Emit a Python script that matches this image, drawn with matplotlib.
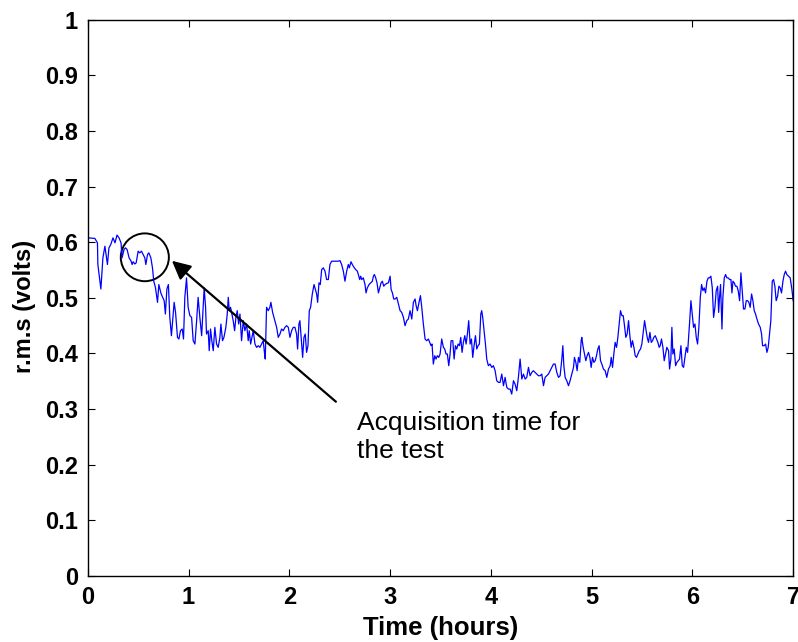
import numpy as np
import matplotlib
matplotlib.use("Agg")
import matplotlib.pyplot as plt
from matplotlib.patches import Ellipse

# r.m.s trace, in pieces (time in hours, rms in volts)
hours_1 = [0.000, 0.003, 0.070, 0.096, 0.100, 0.130, 0.150, 0.170, 0.186, 0.195,
           0.210, 0.228, 0.250, 0.270, 0.290, 0.310, 0.330, 0.340, 0.360, 0.374,
           0.390, 0.410, 0.430, 0.440, 0.450, 0.467, 0.480, 0.500, 0.516, 0.533,
           0.550, 0.566, 0.576, 0.593, 0.606, 0.626, 0.642, 0.655, 0.672, 0.692,
           0.705, 0.725, 0.738, 0.758, 0.770, 0.785, 0.800, 0.814, 0.830, 0.847,
           0.857, 0.871, 0.890, 0.904, 0.920, 0.937, 0.950, 0.963, 0.980, 0.996,
           1.013, 1.030, 1.046, 1.063, 1.080, 1.095, 1.112, 1.130]
rms_1 = [0.320, 0.608, 0.607, 0.599, 0.560, 0.516, 0.572, 0.593, 0.572, 0.560,
         0.590, 0.596, 0.608, 0.599, 0.613, 0.608, 0.599, 0.572, 0.587, 0.590,
         0.587, 0.572, 0.566, 0.560, 0.565, 0.561, 0.563, 0.584, 0.581, 0.584,
         0.578, 0.572, 0.560, 0.578, 0.581, 0.572, 0.554, 0.530, 0.518, 0.492,
         0.524, 0.509, 0.503, 0.495, 0.471, 0.516, 0.524, 0.465, 0.432, 0.471,
         0.492, 0.474, 0.429, 0.426, 0.441, 0.444, 0.426, 0.501, 0.536, 0.483,
         0.468, 0.465, 0.423, 0.417, 0.459, 0.501, 0.465, 0.432]

hours_2 = [1.155,
           1.169, 1.178, 1.195, 1.205, 1.218, 1.231, 1.245, 1.261, 1.278, 1.294,
           1.311, 1.321, 1.337, 1.351, 1.370, 1.384, 1.394, 1.404, 1.417, 1.430,
           1.443, 1.457, 1.470, 1.483, 1.497, 1.510, 1.526, 1.543, 1.559, 1.576,
           1.592, 1.602, 1.616, 1.629, 1.642, 1.659, 1.675, 1.692, 1.708, 1.725,
           1.741, 1.751, 1.761, 1.774, 1.791, 1.807, 1.817, 1.834, 1.847, 1.860,
           1.874, 1.890, 1.907, 1.923, 1.940, 1.956, 1.973, 1.990, 2.006, 2.023,
           2.039, 2.056, 2.072, 2.082, 2.095, 2.105, 2.122, 2.132, 2.145, 2.158,
           2.171, 2.185, 2.198, 2.211, 2.228, 2.245]
rms_2 = [0.518,
         0.483, 0.435, 0.441, 0.405, 0.444, 0.423, 0.405, 0.447, 0.417, 0.411,
         0.429, 0.453, 0.423, 0.429, 0.447, 0.471, 0.501, 0.477, 0.483, 0.471,
         0.459, 0.441, 0.465, 0.477, 0.453, 0.471, 0.423, 0.459, 0.441, 0.453,
         0.423, 0.441, 0.417, 0.429, 0.441, 0.417, 0.411, 0.414, 0.411, 0.417,
         0.423, 0.405, 0.390, 0.483, 0.477, 0.483, 0.492, 0.474, 0.465, 0.456,
         0.447, 0.429, 0.435, 0.444, 0.441, 0.447, 0.450, 0.447, 0.429, 0.441,
         0.447, 0.447, 0.435, 0.408, 0.453, 0.459, 0.417, 0.393, 0.429, 0.435,
         0.402, 0.414, 0.477, 0.483, 0.507, 0.524]

hours_3 = [2.254, 2.271, 2.281, 2.294, 2.307, 2.321, 2.337, 2.354, 2.370, 2.387,
           2.403, 2.420, 2.436, 2.453, 2.470, 2.486, 2.503, 2.519, 2.536, 2.552,
           2.569, 2.585, 2.595, 2.612, 2.625, 2.645, 2.658, 2.675, 2.685, 2.698,
           2.708, 2.718, 2.734, 2.751, 2.761, 2.774, 2.791, 2.807, 2.824, 2.834,
           2.844, 2.857, 2.870, 2.884, 2.897, 2.910, 2.923, 2.937, 2.950, 2.967,
           2.983, 3.000, 3.010, 3.023, 3.036, 3.049, 3.066, 3.082, 3.099, 3.115,
           3.132, 3.148, 3.165, 3.181, 3.198, 3.215, 3.231, 3.248, 3.258, 3.271,
           3.287, 3.301, 3.314, 3.330, 3.347, 3.363, 3.380]
rms_3 = [0.518, 0.507, 0.492, 0.527, 0.524, 0.551, 0.554, 0.548, 0.533, 0.533,
         0.560, 0.566, 0.566, 0.566, 0.566, 0.566, 0.567, 0.560, 0.548, 0.530,
         0.548, 0.560, 0.554, 0.565, 0.560, 0.554, 0.551, 0.548, 0.542, 0.533,
         0.539, 0.533, 0.536, 0.524, 0.509, 0.518, 0.524, 0.527, 0.530, 0.539,
         0.542, 0.536, 0.527, 0.509, 0.518, 0.527, 0.530, 0.521, 0.524, 0.526,
         0.527, 0.539, 0.515, 0.509, 0.498, 0.498, 0.501, 0.489, 0.477, 0.474,
         0.465, 0.450, 0.459, 0.462, 0.477, 0.462, 0.492, 0.498, 0.486, 0.477,
         0.492, 0.504, 0.483, 0.453, 0.426, 0.423, 0.426]

hours_4 = [3.406, 3.416, 3.429, 3.443, 3.456, 3.469, 3.483, 3.496, 3.512, 3.529,
           3.542, 3.555, 3.568, 3.582, 3.595, 3.605, 3.622, 3.635, 3.648, 3.661,
           3.675, 3.688, 3.701, 3.714, 3.727, 3.741, 3.754, 3.767, 3.780, 3.794,
           3.807, 3.820, 3.833, 3.847, 3.860, 3.873, 3.886, 3.900, 3.909, 3.919,
           3.933, 3.946, 3.959, 3.975, 3.992, 4.009, 4.025, 4.042, 4.058, 4.075,
           4.091, 4.108, 4.125, 4.141, 4.158, 4.174, 4.191, 4.207, 4.224, 4.240,
           4.257, 4.273, 4.290, 4.307, 4.323, 4.340, 4.356, 4.373, 4.389, 4.406,
           4.422, 4.439, 4.456, 4.472, 4.489, 4.505, 4.522]
rms_4 = [0.414, 0.417, 0.381, 0.396, 0.390, 0.396, 0.393, 0.399, 0.426, 0.411,
         0.408, 0.399, 0.399, 0.378, 0.399, 0.423, 0.423, 0.390, 0.414, 0.408,
         0.417, 0.414, 0.429, 0.402, 0.420, 0.432, 0.417, 0.435, 0.459, 0.417,
         0.426, 0.393, 0.414, 0.432, 0.408, 0.414, 0.417, 0.471, 0.477, 0.465,
         0.441, 0.417, 0.390, 0.378, 0.381, 0.375, 0.378, 0.369, 0.351, 0.348,
         0.348, 0.363, 0.342, 0.357, 0.339, 0.336, 0.336, 0.327, 0.351, 0.345,
         0.333, 0.357, 0.390, 0.354, 0.363, 0.354, 0.357, 0.375, 0.360, 0.366,
         0.369, 0.366, 0.363, 0.360, 0.360, 0.363, 0.342]

hours_5 = [4.538, 4.555, 4.571, 4.588, 4.604, 4.621, 4.637, 4.654, 4.671, 4.687,
           4.704, 4.714, 4.724, 4.737, 4.753, 4.770, 4.786, 4.803, 4.820, 4.829,
           4.843, 4.856, 4.869, 4.882, 4.896, 4.902, 4.916, 4.929, 4.942, 4.955,
           4.969, 4.982, 4.995, 5.008, 5.022, 5.035, 5.048, 5.061, 5.074, 5.088,
           5.101, 5.117, 5.134, 5.150, 5.167, 5.184, 5.194, 5.207, 5.220, 5.233,
           5.247, 5.260, 5.273, 5.286, 5.300, 5.313, 5.326, 5.339, 5.352, 5.366,
           5.379, 5.392, 5.405, 5.419, 5.432, 5.445, 5.458, 5.472, 5.485, 5.498,
           5.511, 5.525, 5.538, 5.551, 5.564, 5.578, 5.591, 5.604, 5.617, 5.631,
           5.644, 5.657, 5.670]
rms_5 = [0.357, 0.360, 0.363, 0.369, 0.375, 0.381, 0.381, 0.366, 0.357, 0.360,
         0.390, 0.414, 0.378, 0.357, 0.351, 0.342, 0.351, 0.363, 0.375, 0.393,
         0.384, 0.369, 0.393, 0.384, 0.423, 0.429, 0.411, 0.399, 0.387, 0.396,
         0.402, 0.393, 0.375, 0.393, 0.384, 0.387, 0.396, 0.408, 0.414, 0.387,
         0.381, 0.372, 0.369, 0.357, 0.372, 0.378, 0.393, 0.375, 0.399, 0.420,
         0.411, 0.429, 0.453, 0.477, 0.468, 0.468, 0.450, 0.429, 0.435, 0.459,
         0.432, 0.411, 0.423, 0.411, 0.396, 0.393, 0.399, 0.405, 0.408, 0.417,
         0.438, 0.459, 0.444, 0.429, 0.420, 0.438, 0.420, 0.423, 0.429, 0.432,
         0.426, 0.420, 0.411]

hours_6 = [5.680, 5.693, 5.707, 5.720, 5.733, 5.746, 5.763, 5.773, 5.786, 5.796,
           5.806, 5.819, 5.833, 5.846, 5.859, 5.872, 5.886, 5.899, 5.912, 5.925,
           5.939, 5.952, 5.972, 5.985, 5.998, 6.011, 6.025, 6.038, 6.051, 6.064,
           6.078, 6.091, 6.104, 6.117, 6.130, 6.144, 6.157, 6.170, 6.183, 6.197,
           6.210, 6.223, 6.236, 6.250, 6.260, 6.269, 6.279, 6.293, 6.302, 6.316,
           6.329, 6.342, 6.355, 6.369, 6.382, 6.392, 6.402, 6.415, 6.428, 6.441,
           6.454, 6.468, 6.481, 6.494, 6.507, 6.521, 6.534, 6.547, 6.560, 6.573,
           6.587, 6.600, 6.613, 6.626, 6.640, 6.656, 6.673, 6.686, 6.696, 6.712,
           6.726, 6.739, 6.752, 6.765, 6.778, 6.792, 6.805, 6.818, 6.831, 6.845,
           6.858, 6.871, 6.884, 6.898, 6.911, 6.924, 6.937, 6.954, 6.970, 6.987,
           7.000]
rms_6 = [0.414, 0.426, 0.411, 0.387, 0.399, 0.411, 0.405, 0.372, 0.390, 0.447,
         0.399, 0.408, 0.378, 0.384, 0.387, 0.390, 0.414, 0.378, 0.375, 0.393,
         0.411, 0.402, 0.456, 0.495, 0.471, 0.447, 0.453, 0.429, 0.417, 0.447,
         0.501, 0.524, 0.513, 0.518, 0.509, 0.530, 0.536, 0.536, 0.539, 0.518,
         0.465, 0.483, 0.513, 0.521, 0.474, 0.501, 0.524, 0.444, 0.501, 0.536,
         0.542, 0.536, 0.536, 0.533, 0.533, 0.509, 0.530, 0.527, 0.521, 0.521,
         0.513, 0.495, 0.545, 0.513, 0.480, 0.480, 0.495, 0.495, 0.492, 0.483,
         0.507, 0.495, 0.477, 0.471, 0.462, 0.453, 0.447, 0.435, 0.414, 0.414,
         0.417, 0.402, 0.411, 0.435, 0.459, 0.530, 0.533, 0.521, 0.495, 0.503,
         0.521, 0.518, 0.509, 0.530, 0.542, 0.548, 0.542, 0.539, 0.536, 0.515,
         0.495]

hours = np.concatenate([hours_1, hours_2, hours_3, hours_4, hours_5, hours_6])
rms = np.concatenate([rms_1, rms_2, rms_3, rms_4, rms_5, rms_6])

plt.rcParams['font.family'] = ['Liberation Sans', 'DejaVu Sans']

fig = plt.figure(figsize=(7.98, 6.42), dpi=100)
ax = fig.add_axes([0.110, 0.103, 0.884, 0.866])

ax.plot(hours, rms, color='#0000ff', lw=0.9)

# circle marking the acquisition window + arrow with note
ax.add_patch(Ellipse((0.566, 0.573), 0.477, 0.086, fill=False, ec='black', lw=1.4))
ax.annotate('', xy=(0.814, 0.570), xytext=(2.483, 0.310),
            arrowprops=dict(arrowstyle='-|>', color='black', lw=1.6, mutation_scale=28))
ax.text(2.67, 0.297, 'Acquisition time for\nthe test', fontsize=19, va='top', ha='left',
        linespacing=1.2)

ax.set_xlim(0, 7)
ax.set_ylim(0, 1)
ax.set_xticks(range(0, 8))
ax.set_yticks(np.arange(0, 1.01, 0.1))
ax.set_yticklabels(['0', '0.1', '0.2', '0.3', '0.4', '0.5', '0.6', '0.7', '0.8', '0.9', '1'])
ax.tick_params(direction='in', top=True, right=True, length=5, width=0.8,
               labelsize=17, pad=7)
for lab in ax.get_xticklabels() + ax.get_yticklabels():
    lab.set_fontweight('bold')
for s in ax.spines.values():
    s.set_linewidth(1.0)

ax.set_xlabel('Time (hours)', fontsize=18.5, fontweight='bold')
ax.set_ylabel('r.m.s (volts)', fontsize=17, fontweight='bold')
ax.xaxis.set_label_coords(0.5, -0.072)
ax.yaxis.set_label_coords(-0.073, 0.484)

fig.savefig('out.png', dpi=100)
